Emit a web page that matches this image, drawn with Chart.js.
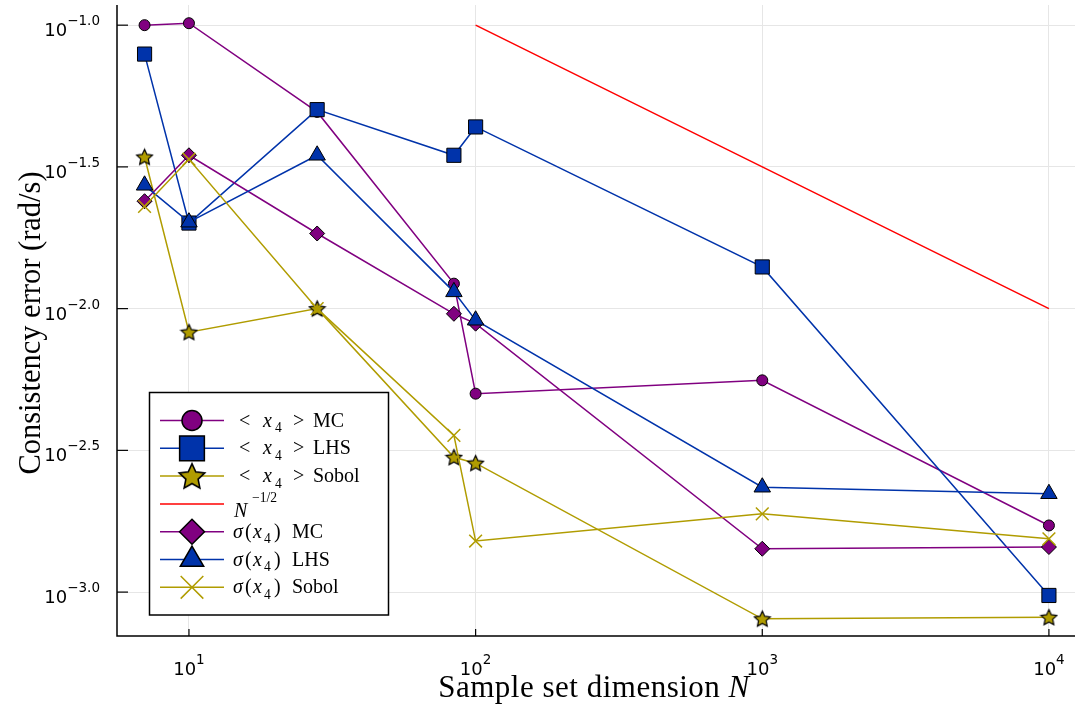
<!DOCTYPE html>
<html>
<head>
<meta charset="utf-8">
<script src="https://cdn.jsdelivr.net/npm/chart.js@4"></script>
<style>
  html, body { margin: 0; padding: 0; background: #fff; }
</style>
</head>
<body>
<canvas id="errChart" width="1075" height="707"></canvas>
<script>
// sample set sizes N
const sampleSizes = [7, 10, 28, 84, 100, 1000, 10000];

// consistency error of the mean <x4>
const meanMC    = [0.1000, 0.1016, 0.04943, 0.01225, 0.005012, 0.005585, 0.001718];
const meanLHS   = [0.07907, 0.02004, 0.05035, 0.03475, 0.04375, 0.01403, 0.000973];
const meanSobol = [0.03428, 0.00826, 0.0100, 0.00299, 0.00285, 0.000805, 0.000815];

// reference rate N^-1/2
const refSizes = [100, 1000, 10000];
const refRate  = [0.1, 0.03162, 0.01];

// consistency error of the std sigma(x4)
const stdMC    = [0.02393, 0.03475, 0.01841, 0.00959, 0.00885, 0.001422, 0.001442];
const stdLHS   = [0.02723, 0.02018, 0.03475, 0.01146, 0.00910, 0.002344, 0.002223];
const stdSobol = [0.02296, 0.03365, 0.0100, 0.00357, 0.001514, 0.001888, 0.001542];

// tick positions and their exponent labels
const xTickValues = [10, 100, 1000, 10000];
const xTickLabels = ['1', '2', '3', '4'];
const yTickValues = [0.001, 0.0031623, 0.01, 0.031623, 0.1];
const yTickLabels = ['\u22123.0', '\u22122.5', '\u22122.0', '\u22121.5', '\u22121.0'];

const PURPLE = '#800080';
const BLUE = '#0033aa';
const GOLD = '#b09c00';
const RED = '#ff0000';
const SERIF = '"Liberation Serif", "DejaVu Serif", serif';
const SANS = '"DejaVu Sans", sans-serif';

// filled five point star used as a marker
function makeStar(size, fill, lw) {
    const c = document.createElement('canvas');
    c.width = size;
    c.height = size;
    const g = c.getContext('2d');
    const R = size / 2 - lw, r = R * 0.48, cx = size / 2, cy = size / 2 + R * 0.08;
    g.beginPath();
    for (let i = 0; i < 10; i++) {
        const a = -Math.PI / 2 + i * Math.PI / 5;
        const rr = i % 2 ? r : R;
        g.lineTo(cx + rr * Math.cos(a), cy + rr * Math.sin(a));
    }
    g.closePath();
    g.fillStyle = fill;
    g.fill();
    g.lineWidth = lw;
    g.strokeStyle = '#000';
    g.stroke();
    return c;
}

const starSmall = makeStar(19, GOLD, 1.2);
const starBig = makeStar(30, GOLD, 1.6);

function pts(xs, ys) {
    return xs.map((x, i) => ({ x: x, y: ys[i] }));
}

function series(label, xs, ys, color, style, radius, legendRadius, order) {
    const isCross = style === 'crossRot';
    return {
        label: label,
        data: pts(xs, ys),
        borderColor: color,
        borderWidth: 1.5,
        pointStyle: style,
        pointRadius: radius,
        pointHoverRadius: radius,
        pointBackgroundColor: color,
        pointBorderColor: isCross ? color : '#000',
        pointBorderWidth: isCross ? 1.5 : 1,
        legendRadius: legendRadius,
        order: order
    };
}

const datasets = [
    series('meanMC', sampleSizes, meanMC, PURPLE, 'circle', 5.5, 10, 7),
    series('meanLHS', sampleSizes, meanLHS, BLUE, 'rect', 10, 17.5, 6),
    series('meanSobol', sampleSizes, meanSobol, GOLD, starSmall, 9, 13, 5),
    Object.assign(series('ref', refSizes, refRate, RED, 'circle', 0, 0, 4), { pointRadius: 0, pointHoverRadius: 0 }),
    series('stdMC', sampleSizes, stdMC, PURPLE, 'rectRot', 7.5, 12.5, 3),
    series('stdLHS', sampleSizes, stdLHS, BLUE, 'triangle', 9.5, 13.5, 2),
    series('stdSobol', sampleSizes, stdSobol, GOLD, 'crossRot', 9, 16, 1)
];

// legend entries as rich text: [text, kind, x offset from text start]
// kinds: r=roman, i=italic, s=subscript, p=superscript, n=lowered italic
const legendLabels = [
    [['<', 'r', 6], ['x', 'i', 30], ['4', 's', 42], ['>', 'r', 60], ['MC', 'r', 80]],
    [['<', 'r', 6], ['x', 'i', 30], ['4', 's', 42], ['>', 'r', 60], ['LHS', 'r', 80]],
    [['<', 'r', 6], ['x', 'i', 30], ['4', 's', 42], ['>', 'r', 60], ['Sobol', 'r', 80]],
    [['N', 'n', 1], ['\u22121/2', 'p', 19]],
    [['\u03c3', 'i', 0], ['(', 'r', 12], ['x', 'i', 20], ['4', 's', 31], [')', 'r', 41], ['MC', 'r', 59]],
    [['\u03c3', 'i', 0], ['(', 'r', 12], ['x', 'i', 20], ['4', 's', 31], [')', 'r', 41], ['LHS', 'r', 59]],
    [['\u03c3', 'i', 0], ['(', 'r', 12], ['x', 'i', 20], ['4', 's', 31], [')', 'r', 41], ['Sobol', 'r', 59]]
];

function drawLegendText(ctx, parts, x, y, size) {
    parts.forEach(([t, k, off]) => {
        let fs = size, dy = 0, st = '';
        if (k === 'i') st = 'italic ';
        if (k === 'n') { st = 'italic '; dy = 7; }
        if (k === 's') { fs = size * 0.68; dy = 5.5; }
        if (k === 'p') { fs = size * 0.68; dy = -8; }
        ctx.font = st + fs + 'px ' + SERIF;
        ctx.fillText(t, x + off, y + dy);
    });
}

function powerWidth(ctx, exp) {
    ctx.font = '18px ' + SANS;
    const wb = ctx.measureText('10').width;
    ctx.font = '13.5px ' + SANS;
    return [wb, ctx.measureText(exp).width];
}

function drawPower(ctx, exp, left, baseline, supBaseline) {
    const [wb] = powerWidth(ctx, exp);
    ctx.font = '18px ' + SANS;
    ctx.fillText('10', left, baseline);
    ctx.font = '13.5px ' + SANS;
    ctx.fillText(exp, left + wb, supBaseline);
}

const decorPlugin = {
    id: 'decor',
    afterDraw(chart) {
        const ctx = chart.ctx;
        const area = chart.chartArea;
        const xs = chart.scales.x, ys = chart.scales.y;
        ctx.save();
        ctx.fillStyle = '#000';
        ctx.strokeStyle = '#000';
        ctx.textBaseline = 'alphabetic';
        ctx.textAlign = 'left';

        // axis lines with inward ticks
        ctx.lineWidth = 1.5;
        ctx.beginPath();
        ctx.moveTo(area.left, area.top);
        ctx.lineTo(area.left, area.bottom);
        ctx.lineTo(area.right, area.bottom);
        ctx.stroke();
        ctx.lineWidth = 1.2;
        xTickValues.forEach(v => {
            const px = xs.getPixelForValue(v);
            ctx.beginPath();
            ctx.moveTo(px, area.bottom);
            ctx.lineTo(px, area.bottom - 7);
            ctx.stroke();
        });
        yTickValues.forEach(v => {
            const py = ys.getPixelForValue(v);
            ctx.beginPath();
            ctx.moveTo(area.left, py);
            ctx.lineTo(area.left + 11, py);
            ctx.stroke();
        });

        // tick labels
        xTickValues.forEach((v, i) => {
            const px = xs.getPixelForValue(v);
            const [wb, we] = powerWidth(ctx, xTickLabels[i]);
            const left = px - (wb + we) / 2;
            drawPower(ctx, xTickLabels[i], left, 675, 664);
        });
        yTickValues.forEach((v, i) => {
            const py = ys.getPixelForValue(v);
            const [wb, we] = powerWidth(ctx, yTickLabels[i]);
            const left = 100 - wb - we;
            drawPower(ctx, yTickLabels[i], left, py + 11, py);
        });

        // axis titles
        const tSize = 31;
        ctx.letterSpacing = '0.5px';
        ctx.font = tSize + 'px ' + SERIF;
        const xt1 = 'Sample set dimension ';
        const w1 = ctx.measureText(xt1).width;
        ctx.font = 'italic ' + tSize + 'px ' + SERIF;
        const w2 = ctx.measureText('N').width;
        const xl = 594 - (w1 + w2) / 2;
        ctx.font = tSize + 'px ' + SERIF;
        ctx.fillText(xt1, xl, 697);
        ctx.font = 'italic ' + tSize + 'px ' + SERIF;
        ctx.fillText('N', xl + w1, 697);
        ctx.letterSpacing = '0px';

        ctx.save();
        ctx.translate(40, 323);
        ctx.rotate(-Math.PI / 2);
        ctx.textAlign = 'center';
        ctx.font = '30.5px ' + SERIF;
        ctx.fillText('Consistency error (rad/s)', 0, 0);
        ctx.restore();

        // legend box
        const bx = 149.5, by = 392.5, bw = 239, bh = 222.5;
        ctx.fillStyle = '#fff';
        ctx.fillRect(bx, by, bw, bh);
        ctx.lineWidth = 1.5;
        ctx.strokeStyle = '#000';
        ctx.strokeRect(bx, by, bw, bh);
        const h = Chart.helpers;
        datasets.forEach((ds, i) => {
            const y = 420.5 + i * 27.8;
            ctx.strokeStyle = ds.borderColor;
            ctx.lineWidth = 1.5;
            ctx.beginPath();
            ctx.moveTo(160, y);
            ctx.lineTo(224, y);
            ctx.stroke();
            if (ds.legendRadius > 0) {
                let style = ds.pointStyle;
                if (style === starSmall) style = starBig;
                ctx.fillStyle = ds.pointBackgroundColor;
                ctx.strokeStyle = ds.pointBorderColor;
                ctx.lineWidth = 1.5;
                h.drawPoint(ctx, { pointStyle: style, rotation: 0, radius: ds.legendRadius, borderWidth: 1.5 }, 192, y);
            }
            ctx.fillStyle = '#000';
            ctx.textAlign = 'left';
            drawLegendText(ctx, legendLabels[i], 233, y + 6, 20);
        });
        ctx.restore();
    }
};

new Chart(document.getElementById('errChart'), {
    type: 'line',
    data: { datasets: datasets },
    options: {
        responsive: false,
        devicePixelRatio: 1,
        animation: false,
        layout: { autoPadding: false, padding: { left: 117, right: 0, top: 5, bottom: 71 } },
        plugins: {
            legend: { display: false },
            tooltip: { enabled: false }
        },
        scales: {
            x: {
                type: 'logarithmic',
                min: 5.61,
                max: 12330,
                afterBuildTicks: scale => { scale.ticks = xTickValues.map(v => ({ value: v })); },
                ticks: { display: false },
                grid: { color: '#e6e6e6', lineWidth: 1, drawTicks: false },
                border: { display: false }
            },
            y: {
                type: 'logarithmic',
                min: 0.0007,
                max: 0.1178,
                afterBuildTicks: scale => { scale.ticks = yTickValues.map(v => ({ value: v })); },
                ticks: { display: false },
                grid: { color: '#e6e6e6', lineWidth: 1, drawTicks: false },
                border: { display: false }
            }
        }
    },
    plugins: [decorPlugin]
});
</script>
</body>
</html>
